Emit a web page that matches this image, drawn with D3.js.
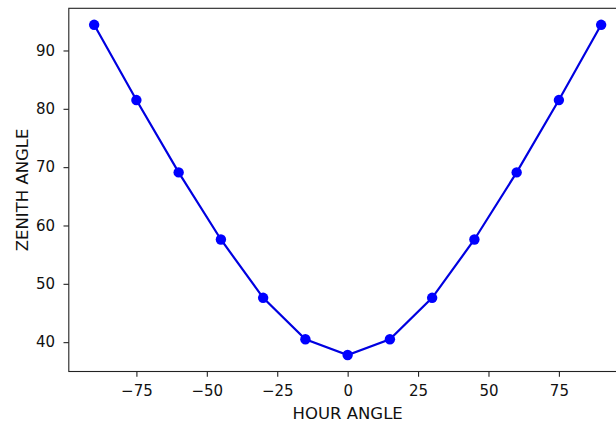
<!DOCTYPE html>
<html><head><meta charset="utf-8">
<script src="https://cdn.jsdelivr.net/npm/d3@7"></script>
<style>body{margin:0;background:#fff}svg{display:block}text{font-family:"DejaVu Sans",sans-serif}</style>
</head><body><svg id="c" width="616" height="423"></svg>
<script>
const hourAngle = [-90,-75,-60,-45,-30,-15,0,15,30,45,60,75,90];
const zenithAngle = [94.4,81.5,69.1,57.6,47.6,40.5,37.8,40.5,47.6,57.6,69.1,81.5,94.4];
const xTicks = [-75,-50,-25,0,25,50,75];
const yTicks = [40,50,60,70,80,90];
const xLabel = "HOUR ANGLE", yLabel = "ZENITH ANGLE";

const svg = d3.select("#c");
const L = 68.8, R = 626.5, T = 8.3, B = 371.5;
const xmin = d3.min(hourAngle), xmax = d3.max(hourAngle), xp = (xmax-xmin)*0.05;
const ymin = d3.min(zenithAngle), ymax = d3.max(zenithAngle), yp = (ymax-ymin)*0.05;
const x = d3.scaleLinear().domain([xmin-xp, xmax+xp]).range([L, R]);
const y = d3.scaleLinear().domain([ymin-yp, ymax+yp]).range([B, T]);
const fmt = d => (d<0? "\u2212"+Math.abs(d) : ""+d);

const xa = svg.append("g").attr("transform",`translate(0,${B})`)
  .call(d3.axisBottom(x).tickValues(xTicks).tickFormat(fmt).tickSize(5.3).tickPadding(8.5).tickSizeOuter(0));
const ya = svg.append("g").attr("transform",`translate(${L},0)`)
  .call(d3.axisLeft(y).tickValues(yTicks).tickFormat(fmt).tickSize(5.3).tickPadding(8.5).tickSizeOuter(0));
[xa,ya].forEach(a=>{
  a.select(".domain").remove();
  a.selectAll("line").attr("stroke","#222").attr("stroke-width",1.1);
  a.selectAll("text").attr("font-size",15).attr("fill","#111").attr("font-family","DejaVu Sans");
});
// spines
svg.append("rect").attr("x",L).attr("y",T).attr("width",R-L).attr("height",B-T)
  .attr("fill","none").attr("stroke","#222").attr("stroke-width",1.1);

const line = d3.line().x((d,i)=>x(hourAngle[i])).y(d=>y(d));
svg.append("path").datum(zenithAngle).attr("d",line).attr("fill","none")
  .attr("stroke","#0000e0").attr("stroke-width",2.2);
svg.append("g").selectAll("circle").data(zenithAngle).join("circle")
  .attr("cx",(d,i)=>x(hourAngle[i])).attr("cy",d=>y(d)).attr("r",5.2).attr("fill","#0000ff");

svg.append("text").attr("x",x(0)).attr("y",419).attr("text-anchor","middle")
  .attr("font-size",16.5).attr("fill","#111").text(xLabel);
svg.append("text").attr("transform",`translate(27.5,${(T+B)/2}) rotate(-90)`).attr("text-anchor","middle")
  .attr("font-size",16.5).attr("fill","#111").text(yLabel);
</script></body></html>
